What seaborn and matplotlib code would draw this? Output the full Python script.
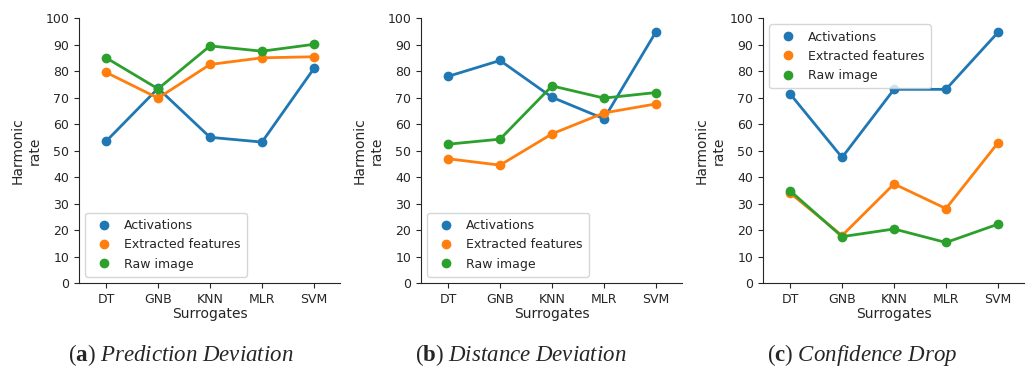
import pandas as pd
import matplotlib
matplotlib.use("Agg")
import matplotlib.pyplot as plt
import seaborn as sns
from matplotlib.lines import Line2D

# Datos
surrogates = ["DT", "GNB", "KNN", "MLR", "SVM"]
series = ["Activations", "Extracted features", "Raw image"]

pred_activations = [53.5, 73.5, 55.0, 53.2, 81.0]
pred_extracted = [79.5, 69.8, 82.5, 85.0, 85.4]
pred_raw = [85.0, 73.3, 89.5, 87.5, 90.1]

dist_activations = [78.0, 84.0, 70.1, 62.0, 94.8]
dist_extracted = [46.9, 44.5, 56.3, 64.2, 67.6]
dist_raw = [52.4, 54.3, 74.4, 69.8, 71.9]

conf_activations = [71.4, 47.4, 73.1, 73.1, 94.6]
conf_extracted = [34.0, 17.9, 37.4, 28.1, 52.9]
conf_raw = [34.8, 17.5, 20.4, 15.3, 22.2]

captions = ["a", "b", "c"]
titles = ["Prediction Deviation", "Distance Deviation", "Confidence Drop"]


def to_long(activ, extr, raw):
    rows = []
    for name, vals in zip(series, [activ, extr, raw]):
        for s, v in zip(surrogates, vals):
            rows.append({"Surrogates": s, "rate": v, "type": name})
    return pd.DataFrame(rows)


paneles = [
    to_long(pred_activations, pred_extracted, pred_raw),
    to_long(dist_activations, dist_extracted, dist_raw),
    to_long(conf_activations, conf_extracted, conf_raw),
]
legend_loc = ["lower left", "lower left", "upper left"]

sns.set_style("ticks")
plt.rcParams["font.family"] = ["DejaVu Sans"]
plt.rcParams["mathtext.fontset"] = "custom"
plt.rcParams["mathtext.rm"] = "Liberation Serif"
plt.rcParams["mathtext.it"] = "Liberation Serif:italic"
plt.rcParams["mathtext.bf"] = "Liberation Serif:bold"

palette = sns.color_palette("tab10")[:3]

fig = plt.figure(figsize=(10.27, 3.69), dpi=100)
lefts = [0.077, 0.41, 0.743]
caption_x = [0.176, 0.507, 0.839]

for i, df in enumerate(paneles):
    ax = fig.add_axes([lefts[i], 0.233, 0.254, 0.718])
    sns.pointplot(data=df, x="Surrogates", y="rate", hue="type",
                  palette=palette, markers="o", linestyles="-",
                  markersize=5.5, linewidth=2, ax=ax, legend=False)
    ax.set_ylim(0, 100)
    ax.set_yticks(range(0, 101, 10))
    ax.set_xlim(-0.52, 4.5)
    ax.set_ylabel("Harmonic\nrate", fontsize=10, labelpad=3)
    ax.set_xlabel("Surrogates", fontsize=10, labelpad=1)
    ax.tick_params(labelsize=9, length=3.5)
    sns.despine(ax=ax)

    handles = [Line2D([], [], marker="o", linestyle="", color=c, markersize=6)
               for c in palette]
    ax.legend(handles, series, loc=legend_loc[i], fontsize=9,
              frameon=True, handletextpad=0.6, borderpad=0.5)

    fig.text(caption_x[i], 0.038,
             r"$\mathrm{(}\mathbf{%s}\mathrm{)}\ \mathit{%s}$"
             % (captions[i], titles[i].replace(" ", r"\ ")),
             ha="center", va="center", fontsize=16.5)

fig.savefig("out.png", dpi=100)
